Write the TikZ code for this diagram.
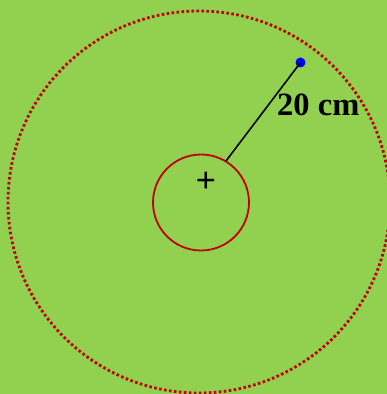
\documentclass[tikz,border=0pt]{standalone}
\usepackage{fontspec}
\setmainfont{Liberation Serif}
\definecolor{bg}{HTML}{92D050}
\definecolor{dred}{HTML}{C00000}
\tikzset{
  circ/.style={draw=dred, line width=1.8pt},
  dotcirc/.style={draw=dred, line width=2.8pt, dash pattern=on 2.6pt off 2.4pt},
  radius line/.style={draw=black, line width=1.6pt},
}
\begin{document}
\begin{tikzpicture}[x=1pt,y=1pt]
\fill[bg] (0,0) rectangle (387,394);
\useasboundingbox (0,0) rectangle (387,394);
\coordinate (O) at (199,192);
\draw[dotcirc] (O) circle (191);
\node[circ, circle, minimum size=96pt, inner sep=0pt] (small) at (201,191.5) {};
\node[inner sep=0pt] (plus) at (206,211.5) {\fontsize{36}{36}\selectfont\bfseries +};
\coordinate (a) at (226,233);
\node[circle, fill=blue, inner sep=0pt, minimum size=10pt] (dot) at (300.5,331.5) {};
\draw[radius line] (a) -- (dot.center);
\node[anchor=base west, inner sep=0pt] (lbl) at (277,278) {\fontsize{32.5}{32.5}\selectfont\bfseries 20 cm};
\end{tikzpicture}
\end{document}
